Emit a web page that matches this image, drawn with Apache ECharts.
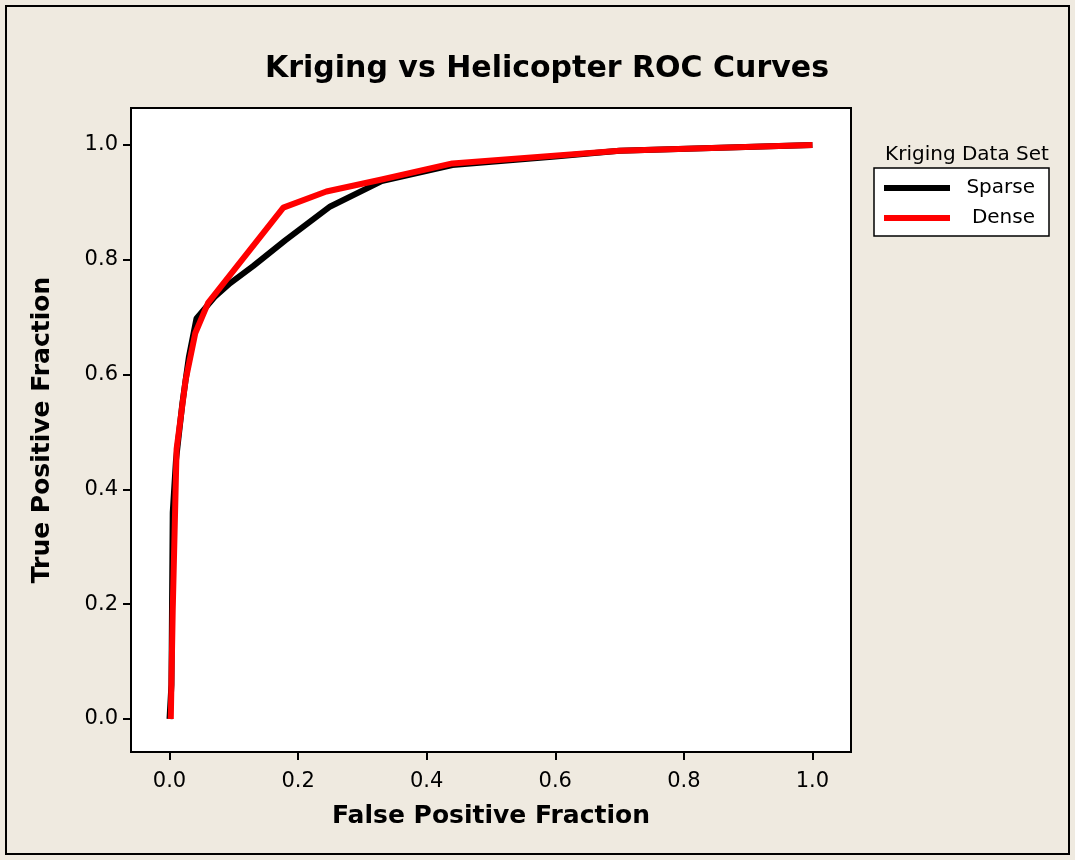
<!DOCTYPE html>
<html>
<head>
<meta charset="utf-8">
<title>Kriging vs Helicopter ROC Curves</title>
<script src="https://cdn.jsdelivr.net/npm/echarts@6/dist/echarts.min.js"></script>
<style>
  html, body { margin: 0; padding: 0; background: #efeae0; }
  #mainChart { width: 1075px; height: 860px; }
</style>
</head>
<body>
<div id="mainChart"></div>
<script>
    // ROC 曲线数据 (False Positive Fraction, True Positive Fraction)
    var seriesNames = ["Sparse", "Dense"];
    var sparseFpf = [0.000, 0.003, 0.005, 0.010, 0.020, 0.030, 0.042, 0.070, 0.094, 0.130, 0.180, 0.250, 0.330, 0.440, 0.600, 0.700, 1.000];
    var sparseTpf = [0.000, 0.060, 0.360, 0.450, 0.550, 0.630, 0.698, 0.735, 0.759, 0.789, 0.834, 0.893, 0.937, 0.965, 0.980, 0.990, 1.000];
    var denseFpf = [0.002, 0.005, 0.011, 0.025, 0.040, 0.060, 0.177, 0.244, 0.330, 0.440, 0.700, 1.000];
    var denseTpf = [0.000, 0.190, 0.470, 0.590, 0.672, 0.725, 0.891, 0.919, 0.940, 0.968, 0.990, 1.000];
    var tickValues = [0, 0.2, 0.4, 0.6, 0.8, 1.0];

    function pairs(xs, ys) {
        var out = [];
        for (var i = 0; i < xs.length; i++) {
            out.push([xs[i], ys[i]]);
        }
        return out;
    }

    var chart = echarts.init(document.getElementById("mainChart"));
    var font = "DejaVu Sans";

    function makeAxis(name, min, max, isY) {
        return {
            type: "value",
            min: min,
            max: max,
            name: name,
            nameLocation: "middle",
            nameGap: isY ? 76 : 52,
            nameTextStyle: {
                fontFamily: font,
                fontWeight: "bold",
                fontSize: 25,
                color: "#000"
            },
            axisLine: { show: true, onZero: false, lineStyle: { color: "#000", width: 2 } },
            axisTick: {
                show: true,
                inside: false,
                length: 8,
                customValues: tickValues,
                lineStyle: { color: "#000", width: 2 }
            },
            axisLabel: {
                show: true,
                customValues: tickValues,
                margin: isY ? 13 : 19,
                fontFamily: font,
                fontSize: 21,
                color: "#000",
                formatter: function (v) { return v.toFixed(1); }
            },
            splitLine: { show: false }
        };
    }

    chart.setOption({
        backgroundColor: "#efeae0",
        animation: false,
        title: [{
            text: "Kriging vs Helicopter ROC Curves",
            left: 542,
            top: 49,
            textAlign: "center",
            textStyle: {
                fontFamily: font,
                fontWeight: "bold",
                fontSize: 30,
                color: "#000"
            }
        }, {
            text: "Kriging Data Set",
            left: 962,
            top: 140,
            textAlign: "center",
            textStyle: {
                fontFamily: font,
                fontWeight: "normal",
                fontSize: 20,
                color: "#000"
            }
        }],
        graphic: [{
            type: "rect",
            shape: { x: 6, y: 6, width: 1063, height: 848 },
            style: { fill: null, stroke: "#000", lineWidth: 2 },
            silent: true
        }],
        legend: {
            orient: "vertical",
            left: 874,
            top: 168,
            padding: [10, 14, 8, 10],
            itemGap: 10,
            itemWidth: 66,
            itemHeight: 6,
            icon: "rect",
            backgroundColor: "#fff",
            borderColor: "#000",
            borderWidth: 1.5,
            data: seriesNames,
            formatter: "{a|{name}}",
            textStyle: {
                fontFamily: font,
                fontSize: 20,
                color: "#000",
                rich: {
                    a: { width: 80, align: "right", fontFamily: font, fontSize: 20 }
                }
            }
        },
        grid: {
            left: 131,
            top: 108,
            width: 720,
            height: 644,
            show: true,
            backgroundColor: "#fff",
            borderColor: "#000",
            borderWidth: 2
        },
        xAxis: makeAxis("False Positive Fraction", -0.0599, 1.06, false),
        yAxis: makeAxis("True Positive Fraction", -0.0575, 1.0645, true),
        series: [{
            name: seriesNames[0],
            type: "line",
            data: pairs(sparseFpf, sparseTpf),
            showSymbol: false,
            color: "#000",
            lineStyle: { color: "#000", width: 6, cap: "butt", join: "round" },
            z: 2
        }, {
            name: seriesNames[1],
            type: "line",
            data: pairs(denseFpf, denseTpf),
            showSymbol: false,
            color: "#ff0000",
            lineStyle: { color: "#ff0000", width: 6, cap: "butt", join: "round" },
            z: 3
        }]
    });
</script>
</body>
</html>
